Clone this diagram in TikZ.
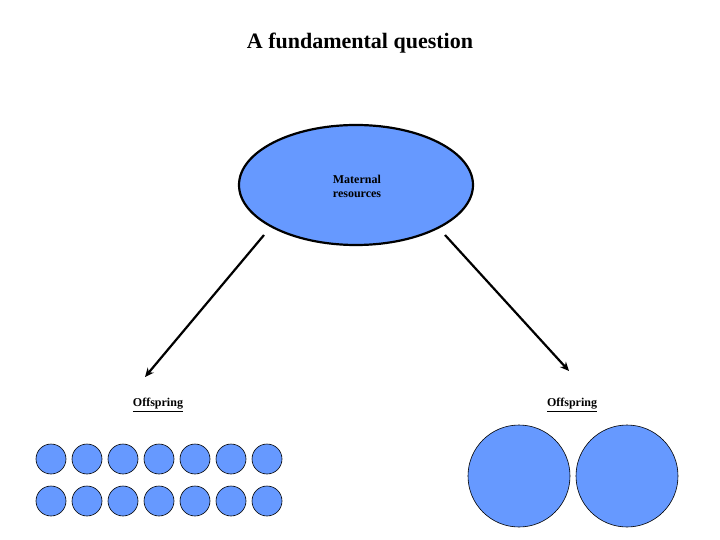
\documentclass[tikz,border=0pt]{standalone}
\usepackage{fontspec}
\usetikzlibrary{shapes.geometric,arrows.meta}
\setmainfont{Liberation Serif}
\begin{document}
\begin{tikzpicture}[x=1pt,y=-1pt,
  blob/.style={circle,draw=black,fill=myblue,line width=0.6pt,inner sep=0pt},
  lab/.style={font=\bfseries\fontsize{12}{14}\selectfont},
  arr/.style={line width=2.2pt,-{Stealth[length=9pt,width=8pt]}}]
\definecolor{myblue}{HTML}{6699FF}
\useasboundingbox (0,0) rectangle (720,540);
\node[font=\bfseries\fontsize{22}{26}\selectfont] (title) at (360,43) {A fundamental question};
\node[ellipse,draw=black,line width=2.2pt,fill=myblue,minimum width=234pt,minimum height=120pt,inner sep=0pt] (mat) at (356,185) {};
\node[lab,align=left] (mtext) at (357,186) {Maternal\\resources};
\coordinate (a1) at (264,235); \coordinate (a2) at (145,377);
\coordinate (b1) at (445,235); \coordinate (b2) at (569,371);
\draw[arr] (a1) -- (a2);
\draw[arr] (b1) -- (b2);
\node[lab] (off1) at (158,405) {\underline{Offspring}};
\node[lab] (off2) at (572,405) {\underline{Offspring}};
\foreach \i/\x in {1/51,2/87,3/123,4/159,5/195,6/231,7/267}{
  \node[blob,minimum size=30pt] (s\i) at (\x,459) {};
  \node[blob,minimum size=30pt] (t\i) at (\x,501) {};
}
\node[blob,minimum size=102pt] (big1) at (519,476) {};
\node[blob,minimum size=102pt] (big2) at (627,476) {};
\end{tikzpicture}
\end{document}
